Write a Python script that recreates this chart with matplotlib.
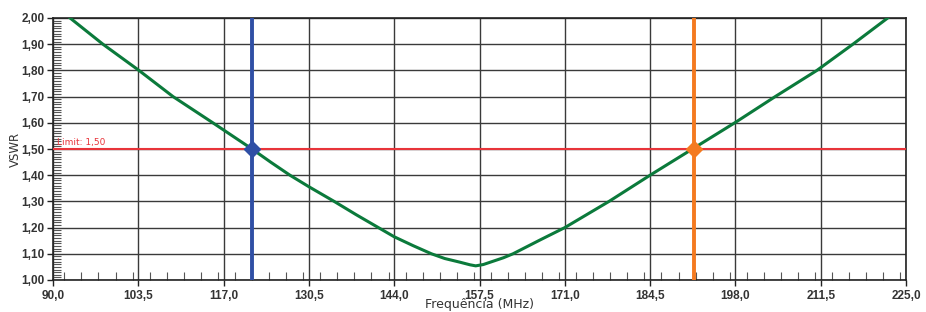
import matplotlib
matplotlib.use("Agg")
import matplotlib.pyplot as plt
from matplotlib.ticker import MultipleLocator, FuncFormatter

freq = [92.7, 97.9, 103.6, 109.0, 115.3, 121.5, 124.5, 127.5, 130.5, 134.5, 138.0,
        141.5, 144.0, 147.0, 149.9, 152.0, 154.4, 156.0, 156.9, 158.1, 159.7,
        161.3, 162.8, 167.1, 171.0, 178.0, 184.5, 191.2, 197.9, 204.3, 210.9,
        216.6, 222.1]
vswr = [2.00, 1.90, 1.80, 1.70, 1.60, 1.50, 1.449, 1.40, 1.356, 1.30, 1.249,
        1.20, 1.165, 1.131, 1.10, 1.082, 1.068, 1.058, 1.054, 1.059, 1.072,
        1.085, 1.10, 1.153, 1.20, 1.30, 1.40, 1.50, 1.60, 1.70, 1.80,
        1.90, 2.00]
limit = 1.50
marker_freqs = [121.5, 191.4]
marker_colors = ["#2F4FA5", "#F47A20"]
x_ticks = [90.0, 103.5, 117.0, 130.5, 144.0, 157.5, 171.0, 184.5, 198.0, 211.5, 225.0]
y_ticks = [1.00, 1.10, 1.20, 1.30, 1.40, 1.50, 1.60, 1.70, 1.80, 1.90, 2.00]

fig = plt.figure(figsize=(9.26, 3.12), dpi=100)
ax = fig.add_axes([53/926, 32/312, 853/926, 262/312])

ax.set_xlim(90, 225)
ax.set_ylim(1.0, 2.0)
ax.set_xticks(x_ticks)
ax.set_yticks(y_ticks)
ax.xaxis.set_major_formatter(FuncFormatter(lambda v, p: f"{v:.1f}".replace(".", ",")))
ax.yaxis.set_major_formatter(FuncFormatter(lambda v, p: f"{v:.2f}".replace(".", ",")))
ax.xaxis.set_minor_locator(MultipleLocator(2.7))
ax.yaxis.set_minor_locator(MultipleLocator(0.01))
ax.grid(True, which="major", color="#3a3a3a", linewidth=1.0, zorder=1)
ax.tick_params(which="major", direction="out", length=4, width=1, color="#222222")
ax.tick_params(axis="x", which="major", pad=3)
ax.tick_params(axis="y", which="major", pad=2)
ax.tick_params(which="minor", direction="in", length=6, width=0.8, color="#555555")
ax.tick_params(top=False, right=False, which="both")
for lbl in ax.get_xticklabels() + ax.get_yticklabels():
    lbl.set_fontfamily("Liberation Sans")
    lbl.set_fontsize(8.5)
    lbl.set_fontweight("bold")
    lbl.set_color("#333333")
for s in ax.spines.values():
    s.set_color("#222222")
    s.set_linewidth(1.2)

ax.axhline(limit, color="#E8343A", linewidth=1.5, zorder=3)
ax.text(90.6, limit + 0.008, "Limit: 1,50", color="#E8343A", fontsize=6.5,
        ha="left", va="bottom", zorder=4)

ax.plot(freq, vswr, color="#0B7A3B", linewidth=2.2, zorder=5,
        solid_joinstyle="round")

for f, c in zip(marker_freqs, marker_colors):
    ax.axvline(f, color=c, linewidth=2.8, zorder=6)
    ax.plot([f], [limit], marker="D", markersize=8.5, color=c, zorder=7)

ax.set_ylabel("VSWR", fontsize=8.5, color="#333333")
ax.yaxis.set_label_coords(-31/853, 0.5)
ax.set_xlabel("Frequência (MHz)", fontsize=9, color="#333333", labelpad=-3)

fig.savefig("out.png", dpi=100)
